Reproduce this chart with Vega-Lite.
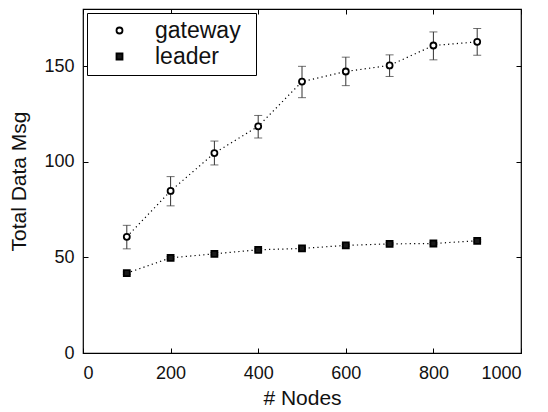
{
  "$schema": "https://vega.github.io/schema/vega-lite/v6.json",
  "width": 438,
  "height": 344,
  "autosize": {"type": "none"},
  "padding": {"left": 83, "top": 9, "right": 27, "bottom": 59},
  "background": "white",
  "config": {
    "font": "Liberation Sans",
    "view": {"stroke": "black", "strokeWidth": 1.2},
    "axis": {
      "grid": false,
      "domain": false,
      "ticks": true,
      "tickColor": "black",
      "tickOpacity": 1,
      "tickSize": -5,
      "tickWidth": 1,
      "labelFont": "Liberation Sans",
      "labelFontSize": 18,
      "labelColor": "#111",
      "titleFont": "Liberation Sans",
      "titleFontSize": 21,
      "titleFontWeight": "normal",
      "titleColor": "#111"
    },
    "legend": {
      "orient": "top-left",
      "offset": 4,
      "strokeColor": "black",
      "fillColor": "white",
      "padding": 6,
      "labelFont": "Liberation Sans",
      "labelFontSize": 23,
      "labelColor": "#111",
      "labelOffset": 24,
      "symbolOffset": 15,
      "rowPadding": 2,
      "symbolSize": 36,
      "symbolStrokeWidth": 1.8,
      "titleOrient": "right",
      "titleFontSize": 6,
      "titlePadding": 5
    }
  },
  "data": {
    "values": [
      {"series": "gateway", "nodes": 100, "msg": 60.8, "lo": 54.5, "hi": 66.8},
      {"series": "gateway", "nodes": 200, "msg": 84.8, "lo": 77.0, "hi": 92.3},
      {"series": "gateway", "nodes": 300, "msg": 104.6, "lo": 98.4, "hi": 110.9},
      {"series": "gateway", "nodes": 400, "msg": 118.6, "lo": 112.5, "hi": 124.3},
      {"series": "gateway", "nodes": 500, "msg": 142.0, "lo": 133.6, "hi": 150.0},
      {"series": "gateway", "nodes": 600, "msg": 147.3, "lo": 139.9, "hi": 154.8},
      {"series": "gateway", "nodes": 700, "msg": 150.5, "lo": 144.7, "hi": 156.0},
      {"series": "gateway", "nodes": 800, "msg": 160.9, "lo": 153.4, "hi": 168.0},
      {"series": "gateway", "nodes": 900, "msg": 162.8, "lo": 155.8, "hi": 169.8},
      {"series": "leader", "nodes": 100, "msg": 41.8, "lo": 41.2, "hi": 42.4},
      {"series": "leader", "nodes": 200, "msg": 49.8, "lo": 49.2, "hi": 50.4},
      {"series": "leader", "nodes": 300, "msg": 51.9, "lo": 51.3, "hi": 52.5},
      {"series": "leader", "nodes": 400, "msg": 54.0, "lo": 53.4, "hi": 54.6},
      {"series": "leader", "nodes": 500, "msg": 54.7, "lo": 54.1, "hi": 55.3},
      {"series": "leader", "nodes": 600, "msg": 56.3, "lo": 55.7, "hi": 56.9},
      {"series": "leader", "nodes": 700, "msg": 57.1, "lo": 56.5, "hi": 57.7},
      {"series": "leader", "nodes": 800, "msg": 57.3, "lo": 56.7, "hi": 57.9},
      {"series": "leader", "nodes": 900, "msg": 58.7, "lo": 58.1, "hi": 59.3}
    ]
  },
  "resolve": {"axis": {"x": "independent", "y": "independent"}},
  "layer": [
    {
      "mark": {"type": "line", "color": "black", "strokeWidth": 1.2, "strokeDash": [1.2, 3.2]},
      "encoding": {
        "x": {
          "field": "nodes", "type": "quantitative",
          "scale": {"domain": [0, 1000], "nice": false},
          "axis": {"orient": "bottom", "values": [0, 200, 400, 600, 800, 1000], "format": "d", "title": "# Nodes", "labelPadding": 16, "titlePadding": 5}
        },
        "y": {
          "field": "msg", "type": "quantitative",
          "scale": {"domain": [0, 180], "nice": false},
          "axis": {"orient": "left", "values": [0, 50, 100, 150], "title": "Total Data Msg", "labelPadding": 14, "titlePadding": 14}
        },
        "detail": {"field": "series"}
      }
    },
    {
      "mark": {"type": "errorbar", "ticks": {"size": 8, "color": "#333"}, "rule": {"color": "#333"}},
      "encoding": {
        "x": {"field": "nodes", "type": "quantitative", "axis": null},
        "y": {"field": "lo", "type": "quantitative", "axis": null},
        "y2": {"field": "hi"}
      }
    },
    {
      "mark": {"type": "point", "filled": true, "strokeWidth": 1.8, "size": 36, "opacity": 1},
      "encoding": {
        "x": {"field": "nodes", "type": "quantitative", "axis": null},
        "y": {"field": "msg", "type": "quantitative", "axis": null},
        "shape": {
          "field": "series", "type": "nominal",
          "scale": {"domain": ["gateway", "leader"], "range": ["circle", "square"]},
          "legend": {"title": "\u2800"}
        },
        "fill": {
          "field": "series", "type": "nominal",
          "scale": {"domain": ["gateway", "leader"], "range": ["white", "#1a1a1a"]},
          "legend": {"title": "\u2800"}
        },
        "stroke": {
          "field": "series", "type": "nominal",
          "scale": {"domain": ["gateway", "leader"], "range": ["black", "black"]},
          "legend": {"title": "\u2800"}
        }
      }
    },
    {
      "mark": {"type": "point", "opacity": 0},
      "encoding": {
        "x": {
          "field": "nodes", "type": "quantitative",
          "axis": {"orient": "top", "values": [0, 200, 400, 600, 800, 1000], "labels": false, "title": null}
        },
        "y": {
          "field": "msg", "type": "quantitative",
          "axis": {"orient": "right", "values": [0, 50, 100, 150], "labels": false, "title": null}
        }
      }
    }
  ]
}
